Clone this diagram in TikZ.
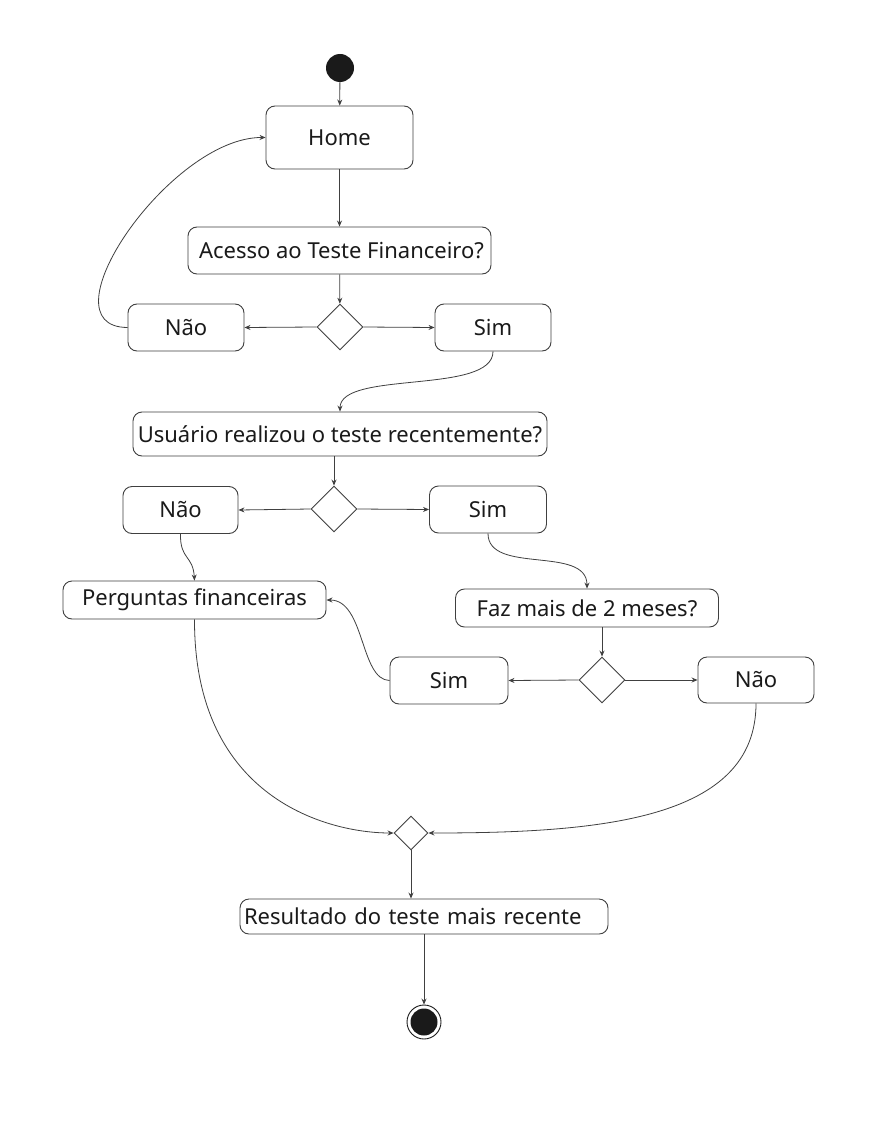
\documentclass[tikz,border=0pt]{standalone}
\usepackage{fontspec}
\setmainfont{Noto Sans}
\usetikzlibrary{shapes.geometric,arrows.meta,calc}
\definecolor{lc}{HTML}{404040}
\definecolor{tc}{HTML}{1A1A1A}
\begin{document}
\begin{tikzpicture}[x=1pt,y=-1pt,
  box/.style={draw=lc, rounded corners=9pt, line width=0.9pt, inner sep=0pt, text=tc, font=\fontsize{22}{26}\selectfont},
  dec/.style={draw=lc, diamond, line width=0.9pt, minimum size=46pt, inner sep=0pt},
  arr/.style={draw=lc, line width=0.8pt, -{Stealth[length=6pt,width=5pt]}}]
\useasboundingbox (0,0) rectangle (881,1134);
\fill[white] (0,0) rectangle (881,1134);

\node[circle, fill=tc, minimum size=28pt, inner sep=0pt] (start) at (340,68) {};
\node[box, minimum width=147pt, minimum height=63pt] (home) at (339.5,137.5) {Home};
\node[box, minimum width=303pt, minimum height=47pt] (acesso) at (339.5,250.5) {\hspace{4pt}Acesso ao Teste Financeiro?};
\node[dec] (d1) at (340,327) {};
\node[box, minimum width=116pt, minimum height=47pt] (nao1) at (186,327.5) {Não};
\node[box, minimum width=116pt, minimum height=47pt] (sim1) at (493,327.5) {Sim};
\node[box, minimum width=414pt, minimum height=44pt] (usuario) at (340,434) {Usuário realizou o teste recentemente?};
\node[dec] (d2) at (334,509) {};
\node[box, minimum width=115pt, minimum height=47pt] (nao2) at (180.5,510) {Não};
\node[box, minimum width=117pt, minimum height=47pt] (sim2) at (488,509.5) {Sim};
\node[box, minimum width=263pt, minimum height=38pt] (perg) at (194.5,600) {Perguntas financeiras};
\node[box, minimum width=263pt, minimum height=38pt] (faz) at (587,608) {Faz mais de 2 meses?};
\node[dec] (d3) at (602,680) {};
\node[box, minimum width=118pt, minimum height=47pt] (sim3) at (449,680.5) {Sim};
\node[box, minimum width=116pt, minimum height=46pt] (nao3) at (756,680) {Não};
\node[dec, minimum size=34pt] (merge) at (411,833) {};
\node[box, minimum height=35pt, text width=360pt, inner xsep=4pt, align=left] (res) at (424,916.5) {Resultado do teste mais recente};
\node[circle, draw=tc, line width=0.9pt, fill=white, minimum size=34pt, inner sep=0pt] (fim) at (424,1022) {};
\fill[tc] (fim.center) circle (13.5pt);

\draw[arr] (start) -- (home);
\draw[arr] (home) -- (acesso);
\draw[arr] (acesso) -- (d1);
\draw[arr] (d1.west) -- (nao1.east);
\draw[arr] (d1.east) -- (sim1.west);
\draw[arr] (nao1.west) .. controls (40,327) and (170,137) .. (home.west);
\draw[arr] (sim1.south) .. controls (493,395) and (340,370) .. (usuario.north);
\draw[arr] (d2.north |- usuario.south) -- (d2.north);
\draw[arr] (d2.west) -- (nao2.east);
\draw[arr] (d2.east) -- (sim2.west);
\draw[arr] (nao2.south) .. controls (180,560) and (193,555) .. (perg.north);
\draw[arr] (sim2.south) .. controls (488,575) and (587,545) .. (faz.north);
\draw[arr] (d3.north |- faz.south) -- (d3.north);
\draw[arr] (d3.west) -- (sim3.east);
\draw[arr] (d3.east) -- (nao3.west);
\draw[arr] (sim3.west) .. controls (360,680) and (365,600) .. (perg.east);
\draw[arr] (perg.south) .. controls (194,800) and (330,833) .. (merge.west);
\draw[arr] (nao3.south) .. controls (756,820) and (600,833) .. (merge.east);
\draw[arr] (merge) -- (merge.south |- res.north);
\draw[arr] (fim.north |- res.south) -- (fim.north);
\end{tikzpicture}
\end{document}
